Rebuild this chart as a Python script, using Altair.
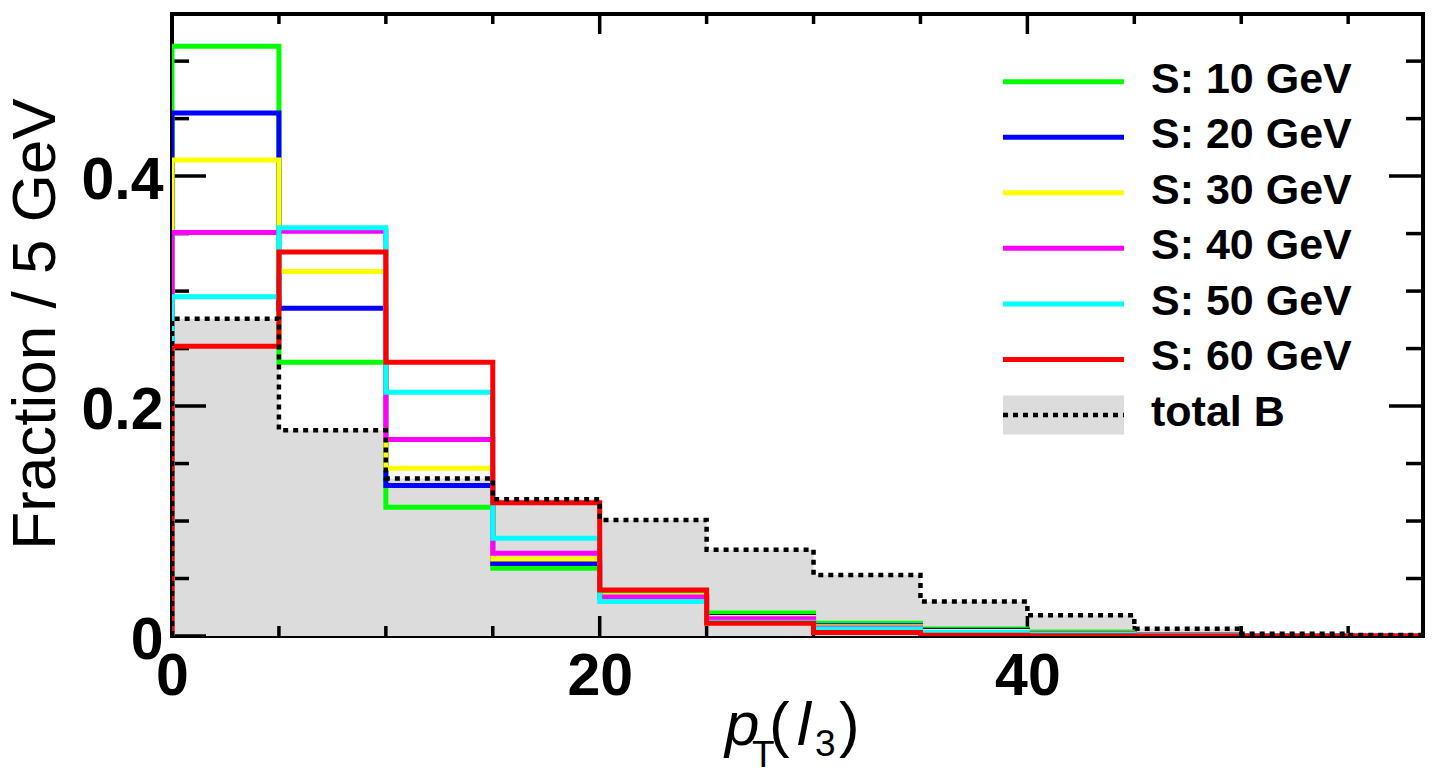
import altair as alt
import pandas as pd

# ---------------- data ----------------
bin_edges = [0, 5, 10, 15, 20, 25, 30, 35, 40, 45, 50, 55, 60]
series_names = ["S: 10 GeV", "S: 20 GeV", "S: 30 GeV", "S: 40 GeV", "S: 50 GeV", "S: 60 GeV"]
series_colors = ["#00ff00", "#0000ff", "#ffff00", "#ff00ff", "#00ffff", "#ff0000"]
s10 = [0.513, 0.238, 0.112, 0.059, 0.036, 0.020, 0.011, 0.006, 0.0035, 0.0012, 0.0005, 0.0002]
s20 = [0.455, 0.285, 0.131, 0.063, 0.034, 0.017, 0.009, 0.005, 0.0022, 0.0010, 0.0004, 0.0002]
s30 = [0.414, 0.317, 0.146, 0.067, 0.035, 0.016, 0.008, 0.004, 0.0018, 0.0008, 0.0003, 0.0001]
s40 = [0.351, 0.352, 0.171, 0.072, 0.034, 0.015, 0.007, 0.003, 0.0015, 0.0006, 0.0002, 0.0001]
s50 = [0.295, 0.355, 0.212, 0.085, 0.030, 0.012, 0.006, 0.003, 0.0012, 0.0005, 0.0002, 0.0001]
s60 = [0.252, 0.334, 0.238, 0.116, 0.040, 0.011, 0.003, 0.0007, 0.0003, 0.0001, 0.0, 0.0]
series_values = [s10, s20, s30, s40, s50, s60]
bkg_name = "total B"
bkg = [0.276, 0.179, 0.137, 0.119, 0.101, 0.075, 0.053, 0.030, 0.018, 0.0064, 0.002, 0.0008]

x_major = [0, 20, 40]
x_minor = [5, 10, 15, 25, 30, 35, 45, 50, 55]
y_major = [0, 0.2, 0.4]
y_minor = [0.05, 0.1, 0.15, 0.25, 0.3, 0.35, 0.45, 0.5]

y_title = "Fraction / 5 GeV"

# ---------------- layout constants ----------------
W, H = 1251, 622
X_MAX, Y_MAX = 58.5, 0.541
FONT = "Liberation Sans"
LW = 5
FILL = "#dcdcdc"

xs = alt.Scale(domain=[0, X_MAX], nice=False, zero=False)
ys = alt.Scale(domain=[0, Y_MAX], nice=False, zero=False)


def step_line_df(vals):
    xv = [bin_edges[0]] + bin_edges[:-1] + [bin_edges[-1]]
    yv = [0.0] + list(vals) + [vals[-1]]
    return pd.DataFrame({"x": xv, "y": yv, "i": list(range(len(xv)))})


def step_area_df(vals):
    xv = bin_edges[:-1] + [bin_edges[-1]]
    yv = list(vals) + [vals[-1]]
    return pd.DataFrame({"x": xv, "y": yv})


x_axis = alt.Axis(values=x_major, format="d", title=None, labelFont=FONT, labelFontSize=59,
                  labelFontWeight="bold", labelColor="black", ticks=False, tickSize=0,
                  domain=False, grid=False, labelPadding=11, labelFlush=False,
                  labelOverlap=False)
y_axis = alt.Axis(values=y_major, format=".1~f", title=None, labelFont=FONT, labelFontSize=59,
                  labelFontWeight="bold", labelColor="black", ticks=False, tickSize=0,
                  domain=False, grid=False, labelPadding=9, labelFlush=False,
                  labelOverlap=False, labelOffset=4)

# background fill
bkg_fill = alt.Chart(step_area_df(bkg)).mark_area(
    interpolate="step-after", color=FILL, clip=True
).encode(
    x=alt.X("x:Q", scale=xs, axis=x_axis),
    y=alt.Y("y:Q", scale=ys, axis=y_axis),
)

# ticks (inside, ROOT style)
xmaj = pd.DataFrame({"v": x_major})
xmin = pd.DataFrame({"v": x_minor})
ymaj = pd.DataFrame({"v": y_major})
ymin = pd.DataFrame({"v": y_minor})
TK = dict(color="black", strokeWidth=3.5)
ticks = []
for df, ln in [(xmaj, 20), (xmin, 10)]:
    ticks.append(alt.Chart(df).mark_rule(**TK).encode(
        x=alt.X("v:Q", scale=xs, axis=x_axis), y=alt.value(H), y2=alt.value(H - ln)))
    ticks.append(alt.Chart(df).mark_rule(**TK).encode(
        x=alt.X("v:Q", scale=xs, axis=x_axis), y=alt.value(0), y2=alt.value(ln)))
for df, ln in [(ymaj, 34), (ymin, 17)]:
    ticks.append(alt.Chart(df).mark_rule(**TK).encode(
        y=alt.Y("v:Q", scale=ys, axis=y_axis), x=alt.value(0), x2=alt.value(ln)))
    ticks.append(alt.Chart(df).mark_rule(**TK).encode(
        y=alt.Y("v:Q", scale=ys, axis=y_axis), x=alt.value(W), x2=alt.value(W - ln)))

# signal histograms
sig_layers = []
for name, col, vals in zip(series_names, series_colors, series_values):
    sig_layers.append(alt.Chart(step_line_df(vals)).mark_line(
        interpolate="step-after", color=col, strokeWidth=LW, clip=True
    ).encode(
        x=alt.X("x:Q", scale=xs, axis=x_axis),
        y=alt.Y("y:Q", scale=ys, axis=y_axis),
        order="i:Q",
    ))

# background dotted outline
bkg_line = alt.Chart(step_line_df(bkg)).mark_line(
    interpolate="step-after", color="black", strokeWidth=4.5, strokeDash=[5, 5], clip=True
).encode(
    x=alt.X("x:Q", scale=xs, axis=x_axis),
    y=alt.Y("y:Q", scale=ys, axis=y_axis),
    order="i:Q",
)

one = alt.Data(values=[{"a": 1}])

# y title
ytitle = alt.Chart(one).mark_text(
    text=y_title, font=FONT, fontSize=62, angle=270, align="center", baseline="alphabetic",
    color="black"
).encode(x=alt.value(55 - 172), y=alt.value(324 - 14))

# x title  p_T(l_3)
title_parts = [("p", "italic", 62, 725, 745), ("T", "normal", 37, 752, 767),
               ("(", "normal", 62, 769, 745), ("l", "italic", 62, 797, 745),
               ("3", "normal", 37, 815, 756), (")", "normal", 62, 839, 745)]
xtitle = []
for t, st, sz, px, py in title_parts:
    xtitle.append(alt.Chart(one).mark_text(
        text=t, font=FONT, fontSize=sz, fontStyle=st, align="left", baseline="alphabetic",
        color="black"
    ).encode(x=alt.value(px - 172), y=alt.value(py - 14)))

main = alt.layer(bkg_fill, *ticks, *sig_layers, bkg_line, ytitle, *xtitle)

# legend
leg_df = pd.DataFrame({"name": series_names + [bkg_name], "row": list(range(len(series_names) + 1))})
leg_df["lo"] = leg_df["row"] - 0.35
leg_df["hi"] = leg_df["row"] + 0.35
n_sig = len(series_names)
leg_scale = alt.Scale(domain=[0, n_sig], range=[81.7 - 14, 415 - 14], nice=False, zero=False)
LX0, LX1 = 1003 - 172, 1124 - 172

leg_lines = alt.Chart(leg_df).transform_filter(alt.datum.row < n_sig).mark_rule(
    strokeWidth=LW
).encode(
    x=alt.value(LX0), x2=alt.value(LX1),
    y=alt.Y("row:Q", scale=leg_scale, axis=None),
    color=alt.Color("name:N", scale=alt.Scale(domain=series_names, range=series_colors), legend=None),
)
leg_box = alt.Chart(leg_df).transform_filter(alt.datum.row == n_sig).mark_rect(color=FILL).encode(
    x=alt.value(LX0), x2=alt.value(LX1),
    y=alt.Y("lo:Q", scale=leg_scale, axis=None), y2="hi:Q",
)
leg_dot = alt.Chart(leg_df).transform_filter(alt.datum.row == n_sig).mark_rule(
    color="black", strokeWidth=4.5, strokeDash=[5, 5]
).encode(
    x=alt.value(LX0), x2=alt.value(LX1),
    y=alt.Y("row:Q", scale=leg_scale, axis=None),
)
leg_text = alt.Chart(leg_df).mark_text(
    align="left", baseline="middle", font=FONT, fontSize=43, fontWeight="bold", color="black", dy=-2
).encode(
    x=alt.value(1151 - 172),
    y=alt.Y("row:Q", scale=leg_scale, axis=None),
    text="name:N",
)
legend = alt.layer(leg_lines, leg_box, leg_dot, leg_text)

chart = alt.layer(main, legend).resolve_scale(y="independent").properties(
    width=W, height=H,
    autosize=alt.AutoSizeParams(type="none"),
    padding={"left": 164, "top": 6, "right": 4, "bottom": 134},
).configure(
    font=FONT, background="white",
    view=alt.ViewConfig(stroke="black", strokeWidth=4),
)

chart.save("out.html", embed_options={"renderer": "svg", "actions": False})
